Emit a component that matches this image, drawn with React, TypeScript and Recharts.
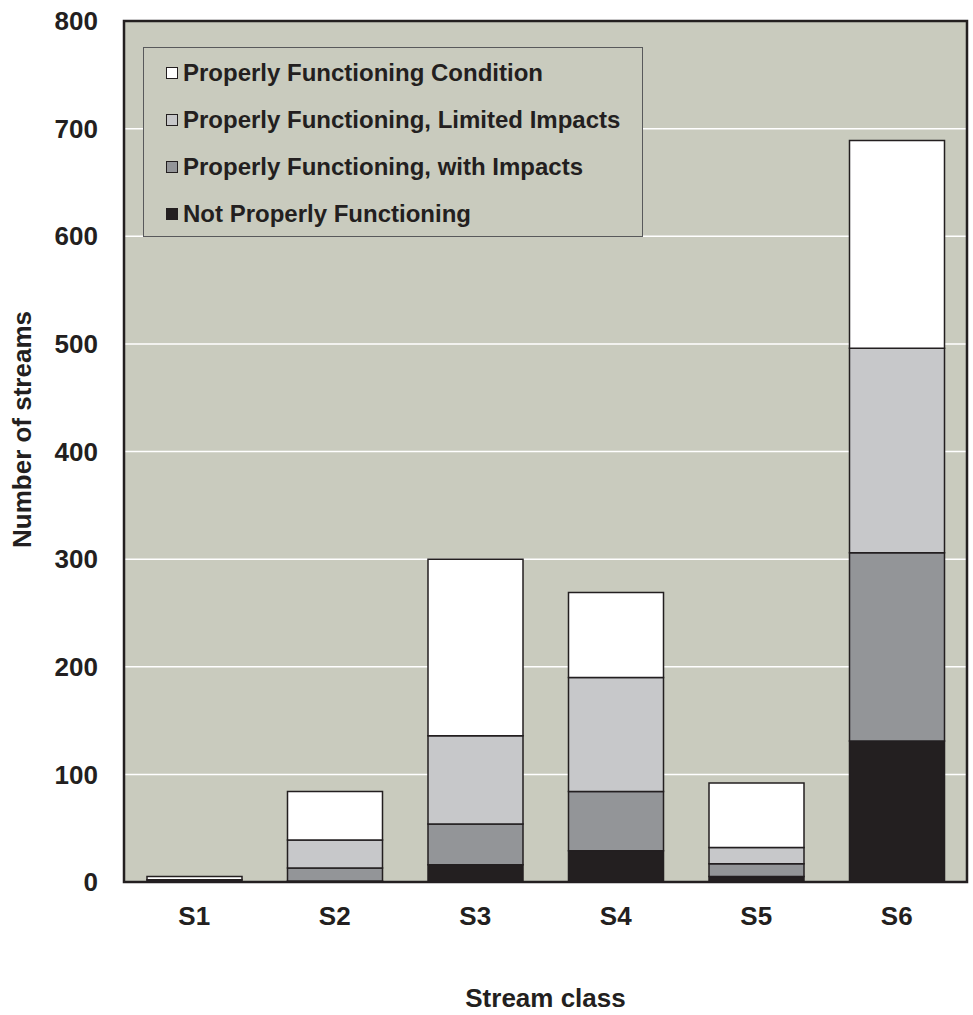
import React from 'react';
import { BarChart, Bar, XAxis, YAxis, CartesianGrid, Legend, ReferenceArea } from 'recharts';

const categories = ['S1', 'S2', 'S3', 'S4', 'S5', 'S6'];
const notProperly = [2, 1, 16, 29, 5, 131];
const withImpacts = [0, 12, 38, 55, 12, 175];
const limitedImpacts = [0, 26, 82, 106, 15, 190];
const properCondition = [3, 45, 164, 79, 60, 193];
const yTicks = [0, 100, 200, 300, 400, 500, 600, 700, 800];

const seriesNames = [
  'Properly Functioning Condition',
  'Properly Functioning, Limited Impacts',
  'Properly Functioning, with Impacts',
  'Not Properly Functioning',
];
const seriesColors = ['#FFFFFF', '#C7C8CA', '#939598', '#231F20'];

const data = categories.map((c, i) => ({
  name: c,
  npf: notProperly[i],
  pfi: withImpacts[i],
  pfl: limitedImpacts[i],
  pfc: properCondition[i],
}));

const FONT = '"Liberation Sans", Arial, Helvetica, sans-serif';
const DARK = '#231F20';

const LegendBox = () => (
  <div
    style={{
      background: '#C9CBBE',
      border: '1.5px solid #58595B',
      width: 500,
      height: 190,
      boxSizing: 'border-box',
      paddingTop: 1,
      paddingLeft: 22,
      fontFamily: FONT,
      fontWeight: 'bold',
      fontSize: 24,
      color: DARK,
      lineHeight: 1,
      textAlign: 'left',
    }}
  >
    {seriesNames.map((n, i) => (
      <div key={n} style={{ height: 47, display: 'flex', alignItems: 'center', whiteSpace: 'nowrap' }}>
        <span
          style={{
            display: 'inline-block',
            width: 10,
            height: 10,
            background: seriesColors[i],
            border: `1.5px solid ${DARK}`,
            marginRight: 5,
            flex: 'none',
          }}
        />
        <span>{n}</span>
      </div>
    ))}
  </div>
);

const YLabel = (props: any) => {
  const vb = props.viewBox || {};
  const cx = 22;
  const cy = (vb.y || 0) + (vb.height || 0) / 2 - 22;
  return (
    <text
      x={cx}
      y={cy}
      transform={`rotate(-90, ${cx}, ${cy})`}
      textAnchor="middle"
      dominantBaseline="central"
      fontFamily={FONT}
      fontWeight="bold"
      fontSize={26}
      fill={DARK}
    >
      Number of streams
    </text>
  );
};

const XLabel = (props: any) => {
  const vb = props.viewBox || {};
  const cx = (vb.x || 0) + (vb.width || 0) / 2;
  return (
    <text
      x={cx}
      y={998}
      textAnchor="middle"
      dominantBaseline="central"
      fontFamily={FONT}
      fontWeight="bold"
      fontSize={26}
      fill={DARK}
    >
      Stream class
    </text>
  );
};

export default function App() {
  const tickStyle = { fontFamily: FONT, fontWeight: 'bold', fontSize: 26, fill: DARK } as any;
  return (
    <div style={{ position: 'absolute', left: 0, top: 0, width: 973, height: 1015, background: '#fff' }}>
      <BarChart
        width={973}
        height={1015}
        data={data}
        margin={{ top: 21, right: 6, left: 0, bottom: 0 }}
      >
        <CartesianGrid
          horizontal={true}
          vertical={false}
          stroke="#FFFFFF"
          strokeWidth={1.5}
          fill="#C9CBBE"
          fillOpacity={1}
        />
        <XAxis
          dataKey="name"
          height={133}
          tickLine={false}
          tickSize={0}
          tickMargin={25}
          axisLine={false}
          tick={tickStyle}
          label={{ content: XLabel }}
        />
        <YAxis
          width={124}
          domain={[0, 800]}
          ticks={yTicks}
          interval={0}
          tickLine={false}
          tickSize={0}
          tickMargin={26}
          axisLine={false}
          tick={tickStyle}
          label={{ content: YLabel }}
        />
        <Legend
          layout="horizontal"
          verticalAlign="middle"
          align="center"
          content={() => <LegendBox />}
          wrapperStyle={{ left: 143, top: 47, width: 500, height: 190 }}
        />
        <Bar dataKey="npf" stackId="a" name={seriesNames[3]} fill={seriesColors[3]} stroke={DARK} strokeWidth={1.5} barSize={95} isAnimationActive={false} />
        <Bar dataKey="pfi" stackId="a" name={seriesNames[2]} fill={seriesColors[2]} stroke={DARK} strokeWidth={1.5} barSize={95} isAnimationActive={false} />
        <Bar dataKey="pfl" stackId="a" name={seriesNames[1]} fill={seriesColors[1]} stroke={DARK} strokeWidth={1.5} barSize={95} isAnimationActive={false} />
        <Bar dataKey="pfc" stackId="a" name={seriesNames[0]} fill={seriesColors[0]} stroke={DARK} strokeWidth={1.5} barSize={95} isAnimationActive={false} />
        <ReferenceArea y1={0} y2={800} fill="none" stroke={DARK} strokeWidth={2.5} ifOverflow="visible" />
      </BarChart>
    </div>
  );
}
